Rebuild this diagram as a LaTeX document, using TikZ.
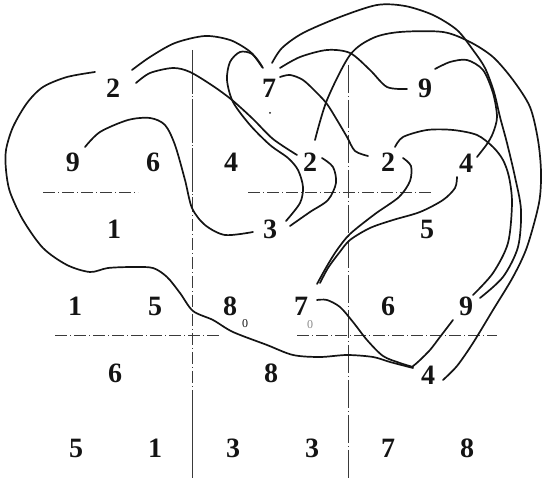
\documentclass[tikz,border=0pt]{standalone}
\usepackage{fontspec}
\newfontfamily\digitfont{Liberation Serif}
\usetikzlibrary{calc}
\definecolor{ink}{HTML}{141414}
\definecolor{rule}{HTML}{3A3A3A}

\tikzset{
  digit/.style={inner sep=1pt, text=ink, font=\digitfont\fontsize{28}{30}\selectfont\bfseries},
  tinyzero/.style={inner sep=0pt, text=ink, font=\digitfont\fontsize{12}{13}\selectfont},
  strand/.style={ink, line width=1.7pt, line cap=round, line join=round},
  cutline/.style={rule, line width=0.8pt, dash pattern=on 12pt off 3pt on 1pt off 3pt},
}

\begin{document}
\begin{tikzpicture}[x=1pt, y=-1pt]
\useasboundingbox (0,0) rectangle (542,478);

% Guide lines (dash-dot)
\draw[cutline, dash pattern=on 44pt off 2pt on 1pt off 2pt] (192,50) -- (192,200);
\draw[cutline] (192,200) -- (192,400);
\draw[rule, line width=0.8pt] (192,400) -- (192,478);
\draw[cutline, dash pattern=on 28pt off 3pt on 1pt off 3pt] (348,65) -- (348,478);
\draw[cutline] (43,192) -- (138,192);
\draw[cutline] (248,192) -- (433,192);
\draw[cutline] (55,335) -- (222,335);
\draw[cutline] (297,335) -- (497,335);

% --- Digits, row by row ---
\node[digit] (A1) at (113,88) {2};
\node[digit] (A2) at (269,88) {7};
\node[digit] (A3) at (425,88) {9};

\node[digit] (B1) at (73,162) {9};
\node[digit] (B2) at (153,162) {6};
\node[digit] (B3) at (231,162) {4};
\node[digit] (B4) at (310,162) {2};
\node[digit] (B5) at (388,162) {2};
\node[digit] (B6) at (466,163) {4};

\node[digit] (C1) at (114,229) {1};
\node[digit] (C2) at (270,229) {3};
\node[digit] (C3) at (427,229) {5};

\node[digit] (D1) at (75,306) {1};
\node[digit] (D2) at (155,306) {5};
\node[digit] (D3) at (230,306) {8};
\node[digit] (D4) at (301,306) {7};
\node[digit] (D5) at (388,306) {6};
\node[digit] (D6) at (466,306) {9};

\node[digit] (E1) at (115,373) {6};
\node[digit] (E2) at (271,373) {8};
\node[digit] (E3) at (428,375) {4};

\node[digit] (F1) at (76,448) {5};
\node[digit] (F2) at (155,448) {1};
\node[digit] (F3) at (233,448) {3};
\node[digit] (F4) at (312,448) {3};
\node[digit] (F5) at (388,448) {7};
\node[digit] (F6) at (467,448) {8};

% small marks under 8 and 7
\node[tinyzero] (D3s) at (245,324) {0};
\node[tinyzero, text=ink!50] (D4s) at (310,325) {0};
\fill[ink] (270,113) circle (1pt);

% --- Strands ---
% 2 -> 4, wide loop round the left
\draw[strand] plot[smooth] coordinates {($(A1)+(-18,-16)$) (67,77) (43,87) (27,103)
  (13,127) (6,150) (6,170) (10,192) (23,220) (43,248) (67,265) (90,272) (108,268)
  (133,267) (153,268) (167,277) (180,293) (193,311) (213,320) (233,332) (267,345)
  (293,355) (320,357) (347,355) (373,357) (390,362) ($(E3)+(-15,-7)$)};

% 2 -> 7 over the top
\draw[strand] plot[smooth] coordinates {($(A1)+(19,-18)$) (150,57) (175,43) (205,36)
  (230,40) (248,50) (257,59) ($(A2)+(-6,-20)$)};

% 2 -> 2
\draw[strand] plot[smooth] coordinates {($(A1)+(23,-5)$) (150,73) (173,68) (190,72)
  (213,86) (232,100) (253,119) (273,139) ($(B4)+(-13,-7)$)};

% 7 -> 3, hooked loop
\draw[strand] plot[smooth] coordinates {($(A2)+(-7,-21)$) (252,54) (240,52) (230,62)
  (227,80) (233,102) (250,125) (270,145) (288,158) (298,170) (303,187) (300,203)
  ($(C2)+(16,-8)$)};

% 2 -> 3
\draw[strand] plot[smooth] coordinates {($(B4)+(12,-4)$) (333,167) (336,183) (328,200)
  (310,212) ($(C2)+(20,-3)$)};

% 9 -> 3
\draw[strand] plot[smooth] coordinates {($(B1)+(12,-15)$) (100,132) (128,120) (150,118)
  (165,125) (175,145) (185,180) (192,208) (205,225) (225,235) ($(C2)+(-17,3)$)};

% 7 -> 9
\draw[strand] plot[smooth] coordinates {($(A2)+(11,-20)$) (300,57) (327,50) (350,53)
  (370,70) (387,87) ($(A3)+(-18,1)$)};

% 7 -> 9, outer arc down the right
\draw[strand] plot[smooth] coordinates {($(A2)+(3,-25)$) (282,48) (303,33) (340,17)
  (377,5) (405,6) (433,15) (457,30) (473,50) (485,68) (494,92) (500,117) (507,143)
  (515,177) (521,210) (518,247) (503,277) ($(D6)+(14,-8)$)};

% 2 -> 9
\draw[strand] plot[smooth] coordinates {($(B5)+(7,-15)$) (403,137) (427,130) (453,130)
  (477,135) (493,147) (503,160) (509,177) (512,203) (508,243) (493,273)
  ($(D6)+(7,-11)$)};

% 9 -> 4
\draw[strand] plot[smooth] coordinates {($(A3)+(10,-19)$) (450,62) (467,60) (483,70)
  (493,93) (497,117) (493,133) (487,144) ($(B6)+(11,-6)$)};

% 2 -> 4, outermost
\draw[strand] plot[smooth] coordinates {($(B4)+(5,-22)$) (327,100) (350,55) (373,38)
  (400,32) (443,32) (470,42) (493,57) (513,80) (530,107) (538,140) (541,172)
  (539,203) (527,247) (513,277) (493,310) (473,343) (457,366) ($(E3)+(15,5)$)};

% 7 -> 2
\draw[strand] plot[smooth] coordinates {($(A2)+(11,-11)$) (290,75) (303,80) (317,93)
  (327,104) (337,120) (347,137) (355,151) ($(B5)+(-20,-6)$)};

% 2 -> 7
\draw[strand] plot[smooth] coordinates {($(B5)+(15,-4)$) (411,166) (410,181) (399,197)
  (375,214) (350,234) (337,250) (327,266) ($(D4)+(16,-22)$)};

% 4 -> 7
\draw[strand] plot[smooth] coordinates {($(B6)+(-9,14)$) (455,188) (443,200) (420,212)
  (393,220) (370,228) (350,240) (339,253) (328,268) ($(D4)+(19,-23)$)};

% 7 -> 4
\draw[strand] plot[smooth] coordinates {($(D4)+(16,-6)$) (327,300) (340,307) (353,322)
  (367,340) (383,356) (400,363) ($(E3)+(-15,-8)$)};

% 9 -> 4
\draw[strand] plot[smooth] coordinates {($(D6)+(-13,14)$) (440,337) (430,350)
  (419,361) ($(E3)+(-16,-8)$)};

\end{tikzpicture}
\end{document}
